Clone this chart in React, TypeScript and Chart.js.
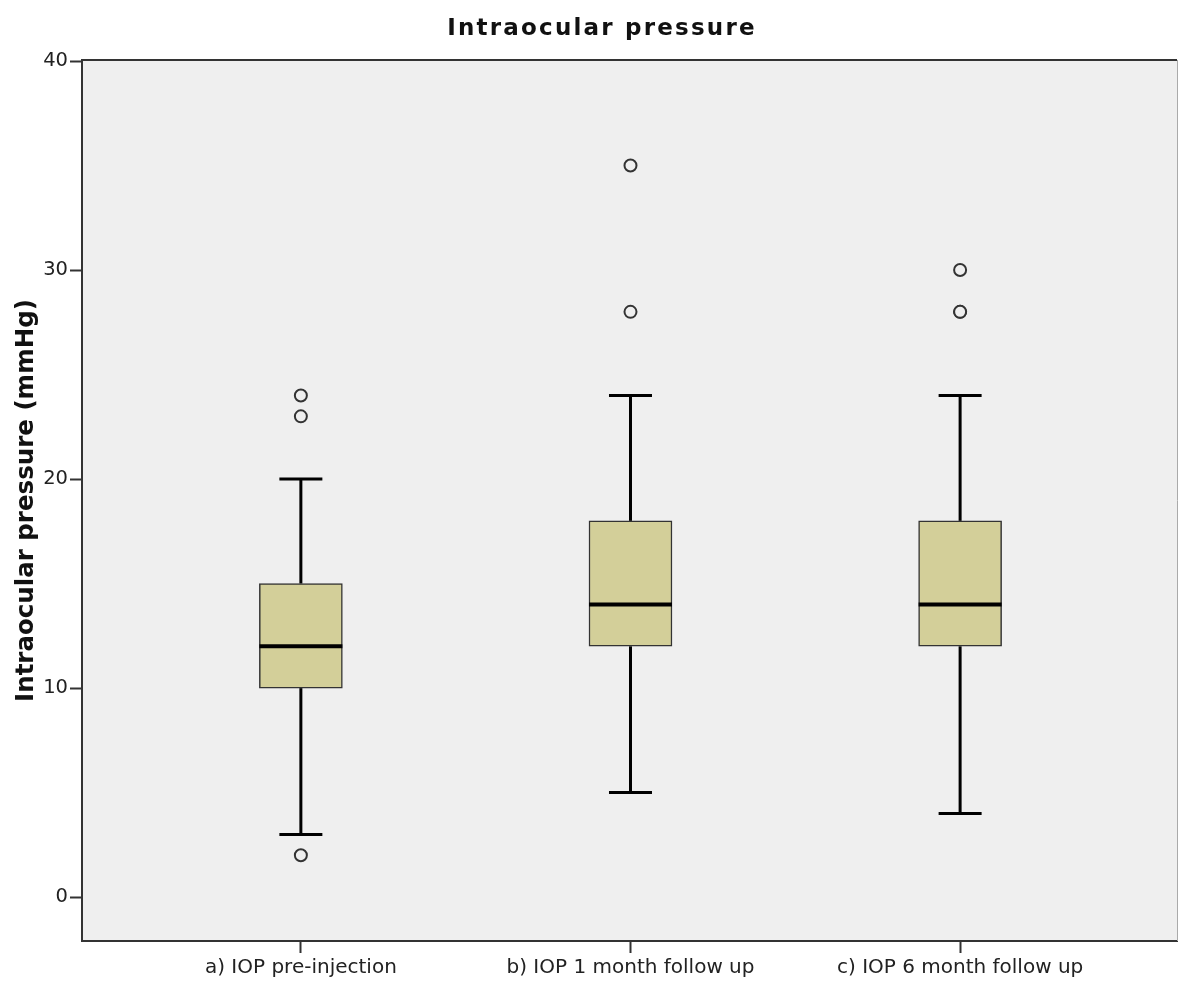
import React, { useEffect, useRef } from "react";
import { Chart, registerables } from "chart.js";

Chart.register(...registerables);

// ---- data ----
const categories = ["a) IOP pre-injection", "b) IOP 1 month follow up", "c) IOP 6 month follow up"];
const whiskerLow = [3, 5, 4];
const q1 = [10, 12, 12];
const median = [12, 14, 14];
const q3 = [15, 18, 18];
const whiskerHigh = [20, 24, 24];
const outliers = [
  [24, 23, 2],
  [35, 28],
  [30, 28, 28],
];
const yTicks = [0, 10, 20, 30, 40];
const chartTitle = "Intraocular pressure";
const yAxisTitle = "Intraocular pressure (mmHg)";

const FONT = "'DejaVu Sans', sans-serif";

const boxPlotPlugin = {
  id: "boxPlotParts",
  beforeDraw(chart: any) {
    const { ctx, chartArea: a } = chart;
    ctx.save();
    ctx.fillStyle = "#efefef";
    ctx.fillRect(a.left, a.top, a.right - a.left, a.bottom - a.top);
    ctx.restore();
  },
  beforeDatasetsDraw(chart: any) {
    const { ctx, scales } = chart;
    const xs = scales.x;
    const ys = scales.y;
    ctx.save();
    ctx.strokeStyle = "#000";
    ctx.lineWidth = 3;
    ctx.lineCap = "butt";
    categories.forEach((_, i) => {
      const x = xs.getPixelForValue(i + 1);
      const capHalf = 21.5;
      ctx.beginPath();
      ctx.moveTo(x, ys.getPixelForValue(whiskerLow[i]));
      ctx.lineTo(x, ys.getPixelForValue(q1[i]));
      ctx.stroke();
      ctx.beginPath();
      ctx.moveTo(x, ys.getPixelForValue(q3[i]));
      ctx.lineTo(x, ys.getPixelForValue(whiskerHigh[i]));
      ctx.stroke();
      [whiskerLow[i], whiskerHigh[i]].forEach((v) => {
        const y = ys.getPixelForValue(v);
        ctx.beginPath();
        ctx.moveTo(x - capHalf, y);
        ctx.lineTo(x + capHalf, y);
        ctx.stroke();
      });
    });
    ctx.restore();
  },
  afterDatasetsDraw(chart: any) {
    const { ctx, scales } = chart;
    const xs = scales.x;
    const ys = scales.y;
    ctx.save();
    ctx.strokeStyle = "#000";
    ctx.lineWidth = 4;
    categories.forEach((_, i) => {
      const x = xs.getPixelForValue(i + 1);
      const y = ys.getPixelForValue(median[i]);
      ctx.beginPath();
      ctx.moveTo(x - 41.5, y);
      ctx.lineTo(x + 41.5, y);
      ctx.stroke();
    });
    ctx.restore();
  },
  afterDraw(chart: any) {
    const { ctx, chartArea: a } = chart;
    ctx.save();
    ctx.strokeStyle = "#333";
    ctx.lineWidth = 2;
    ctx.beginPath();
    ctx.moveTo(a.left - 1, a.top);
    ctx.lineTo(a.right, a.top);
    ctx.stroke();
    ctx.strokeStyle = "#aaa";
    ctx.lineWidth = 1;
    ctx.beginPath();
    ctx.moveTo(a.right + 0.5, a.top);
    ctx.lineTo(a.right + 0.5, a.bottom);
    ctx.stroke();
    ctx.fillStyle = "#111";
    ctx.font = `bold 23px ${FONT}`;
    (ctx as any).letterSpacing = "2.2px";
    ctx.textAlign = "center";
    ctx.textBaseline = "alphabetic";
    ctx.fillText(chartTitle, 602, 35);
    ctx.restore();
  },
};

export default function App() {
  const canvasRef = useRef<HTMLCanvasElement | null>(null);

  useEffect(() => {
    if (!canvasRef.current) return;
    const boxData = categories.map((_, i) => ({ x: i + 1, y: [q1[i], q3[i]] }));
    const outlierData: { x: number; y: number }[] = [];
    outliers.forEach((arr, i) => arr.forEach((v) => outlierData.push({ x: i + 1, y: v })));

    const chart = new Chart(canvasRef.current, {
      type: "bar",
      data: {
        datasets: [
          {
            type: "bar",
            data: boxData as any,
            backgroundColor: "#d3cf99",
            borderColor: "#333",
            borderWidth: 1.5,
            borderSkipped: false,
            barThickness: 83,
          } as any,
          {
            type: "scatter",
            data: outlierData,
            pointStyle: "circle",
            pointRadius: 6,
            pointBorderWidth: 2,
            pointBorderColor: "#333",
            pointBackgroundColor: "#efefef",
          } as any,
        ],
      },
      options: {
        animation: false,
        responsive: false,
        events: [],
        layout: { autoPadding: false, padding: { top: 60, right: 1, left: 0, bottom: 0 } },
        plugins: {
          legend: { display: false },
          tooltip: { enabled: false },
          title: { display: false },
        },
        scales: {
          x: {
            type: "linear",
            offset: false,
            min: 0.336,
            max: 3.658,
            afterBuildTicks: (scale: any) => {
              scale.ticks = categories.map((_, i) => ({ value: i + 1 }));
            },
            afterFit: (scale: any) => {
              scale.height = 42;
              scale.paddingLeft = 0;
              scale.paddingRight = 0;
            },
            ticks: {
              autoSkip: false,
              maxRotation: 0,
              padding: 3,
              color: "#222",
              font: { family: FONT, size: 20 },
              callback: (v: any) => categories[Number(v) - 1] ?? "",
            },
            grid: {
              offset: false,
              drawOnChartArea: false,
              drawTicks: true,
              tickLength: 12,
              tickWidth: 2,
              tickColor: "#333",
            },
            border: { display: true, color: "#333", width: 2 },
          },
          y: {
            type: "linear",
            min: -2.1,
            max: 40.05,
            afterBuildTicks: (scale: any) => {
              scale.ticks = yTicks.map((v) => ({ value: v }));
            },
            afterFit: (scale: any) => {
              scale.width = 82;
              scale.paddingTop = 0;
              scale.paddingBottom = 0;
            },
            ticks: {
              padding: 2,
              color: "#222",
              font: { family: FONT, size: 19.5 },
            },
            grid: {
              drawOnChartArea: false,
              drawTicks: true,
              tickLength: 12,
              tickWidth: 2,
              tickColor: "#333",
            },
            border: { display: true, color: "#333", width: 2 },
            title: {
              display: true,
              text: yAxisTitle,
              color: "#111",
              font: { family: FONT, size: 24.5, weight: "bold" },
              padding: { top: 12, bottom: 0 },
            },
          },
        },
      },
      plugins: [boxPlotPlugin],
    } as any);

    return () => chart.destroy();
  }, []);

  return (
    <div style={{ position: "absolute", left: 0, top: 0, width: 1178, height: 983, background: "#fff" }}>
      <canvas ref={canvasRef} width={1178} height={983} style={{ display: "block" }} />
    </div>
  );
}
